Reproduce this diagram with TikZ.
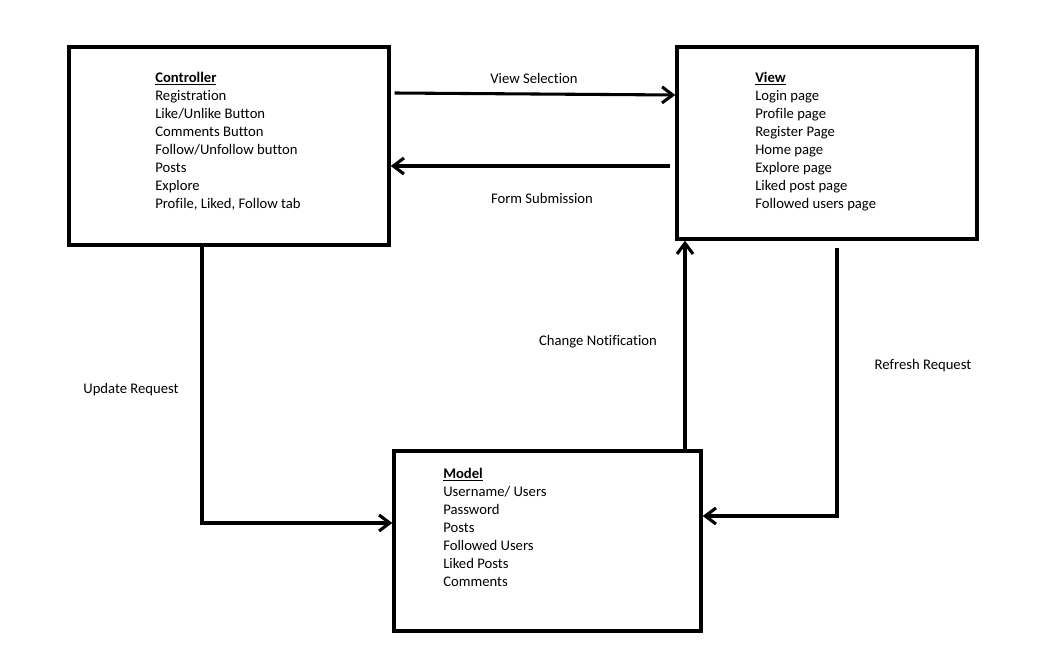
\documentclass[tikz,border=0pt]{standalone}
\usepackage{fontspec}
\setmainfont{Carlito}[Ligatures=NoCommon]
\usetikzlibrary{positioning, calc, arrows.meta}

\begin{document}
\begin{tikzpicture}[
    x=0.75pt, y=-0.75pt,
    block/.style={draw, line width=2.6pt, inner sep=0pt},
    items/.style={anchor=north west, inner sep=0pt, align=left,
                  font=\fontsize{11}{13.5}\selectfont},
    lbl/.style={inner sep=0pt, font=\fontsize{11}{13.5}\selectfont},
    arrow/.style={-{Straight Barb[length=8pt, width=12pt]}, line width=2.3pt},
]
\useasboundingbox (0,0) rectangle (1046,667);

\node[block, minimum width=240pt, minimum height=148.5pt] (ctrl) at (229,146) {};
\node[block, minimum width=225pt, minimum height=144pt] (view) at (827,143) {};
\node[block, minimum width=230.25pt, minimum height=135pt] (model) at (547.5,541) {};

% Box contents
\node[items] (ctrltxt) at (155,72) {\underline{\textbf{Controller}}\\Registration\\
    Like/Unlike Button\\Comments Button\\Follow/Unfollow button\\Posts\\
    Explore\\Profile, Liked, Follow tab};
\node[items] (viewtxt) at (755,72) {\underline{\textbf{View}}\\Login page\\
    Profile page\\Register Page\\Home page\\Explore page\\Liked post page\\
    Followed users page};
\node[items] (modeltxt) at (443,468) {\underline{\textbf{Model}}\\Username/ Users\\
    Password\\Posts\\Followed Users\\Liked Posts\\Comments};

\draw[arrow] ($(ctrl.east |- 0,93)+(4,0)$) -- (view.west |- 0,95);
\draw[arrow] ($(view.west |- 0,166)+(-5,0)$) -- (ctrl.east |- 0,166);
\draw[arrow] (ctrl.south -| 202,0) |- (model.west |- 0,523);
\draw[arrow] (model.north -| 685,0) -- (view.south -| 685,0);
\draw[arrow] ($(view.south -| 837,0)+(0,7)$) |- (model.east |- 0,516);

% Connector labels
\node[lbl] (vsel) at (534,78) {View Selection};
\node[lbl] (fsub) at (542,198) {Form Submission};
\node[lbl] (cnot) at (598,342) {Change Notification};
\node[lbl] (ureq) at (131,390) {Update Request};
\node[lbl] (rreq) at (923,366) {Refresh Request};
\end{tikzpicture}
\end{document}
